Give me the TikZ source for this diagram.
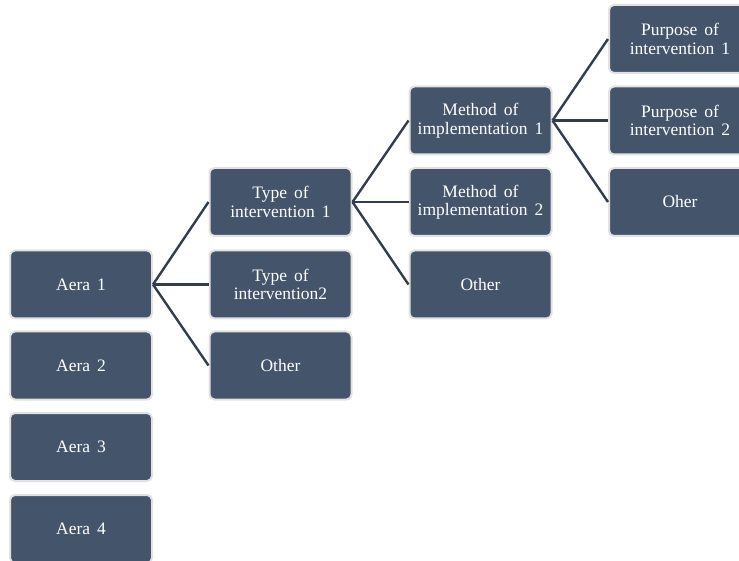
\documentclass[tikz,border=0pt]{standalone}
\usepackage{fontspec}
\setmainfont[WordSpace={1.6,0.5,0.5}]{Liberation Serif}
\definecolor{boxfill}{HTML}{44546A}
\definecolor{boxrim}{HTML}{E2E2E2}
\definecolor{linkcol}{HTML}{323E50}
\tikzset{
  box/.style={draw=boxrim, line width=2pt, fill=boxfill, rounded corners=5pt,
    minimum width=142pt, minimum height=68pt, inner sep=2pt, align=center,
    text=white, font=\fontsize{17.5}{18.5}\selectfont},
  link/.style={draw=linkcol, line width=2.4pt}
}
\begin{document}
\begin{tikzpicture}[x=1pt, y=-1pt]
  \useasboundingbox (0,0) rectangle (739,561);
  \clip (0,0) rectangle (739,561);
  % first level
  \node[box] (a1) at (81,284.5) {Aera 1};
  \node[box] (a2) at (81,365.5) {Aera 2};
  \node[box] (a3) at (81,447) {Aera 3};
  \node[box] (a4) at (81,529) {Aera 4};
  % second level
  \node[box] (t1) at (280.5,202) {Type of\\intervention 1};
  \node[box] (t2) at (280.5,284.5) {Type of\\intervention2};
  \node[box] (t3) at (280.5,365.5) {Other};
  % third level
  \node[box] (m1) at (480.5,120.5) {Method of\\implementation 1};
  \node[box] (m2) at (480.5,202) {Method of\\implementation 2};
  \node[box] (m3) at (480.5,284.5) {Other};
  % fourth level
  \node[box] (p1) at (680,39) {Purpose of\\intervention 1};
  \node[box] (p2) at (680,120.5) {Purpose of\\intervention 2};
  \node[box] (p3) at (680,202) {Oher};
  % connectors
  \foreach \c in {t1,t2,t3} \draw[link] (a1.east) -- (\c.west);
  \foreach \c in {m1,m2,m3} \draw[link] (t1.east) -- (\c.west);
  \foreach \c in {p1,p2,p3} \draw[link] (m1.east) -- (\c.west);
\end{tikzpicture}
\end{document}
